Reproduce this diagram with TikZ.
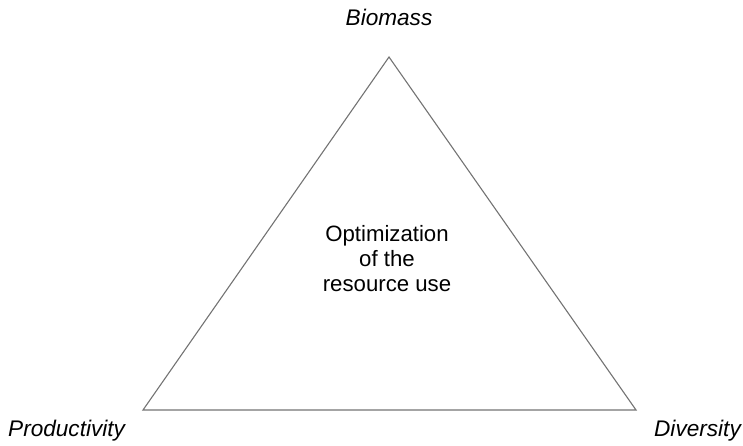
\documentclass[tikz,border=0pt]{standalone}
\usepackage{fontspec}
\setmainfont{Liberation Sans}
\begin{document}
\begin{tikzpicture}[x=1pt,y=-1pt,
  corner/.style={font=\fontsize{22.6}{25}\selectfont\itshape, inner sep=0pt, anchor=base},
  centre/.style={font=\fontsize{22.2}{25}\selectfont, align=center, inner sep=0pt},
  edge/.style={draw=black!55, line width=1.1pt, line join=miter}]
  \useasboundingbox (0,0) rectangle (743,445);
  % triangle corners
  \coordinate (top) at (389,57);
  \coordinate (left) at (143,410);
  \coordinate (right) at (636,410);
  \draw[edge] (top) -- (left) -- (right) -- cycle;
  % corner labels
  \node[corner] (biomass) at (389,25) {Biomass};
  \node[corner, anchor=base west] (prod) at (8,436) {Productivity};
  \node[corner, anchor=base east] (div) at (741,436) {Diversity};
  % central label
  \node[centre] (opt) at (387,259) {Optimization\\of the\\resource use};
\end{tikzpicture}
\end{document}
